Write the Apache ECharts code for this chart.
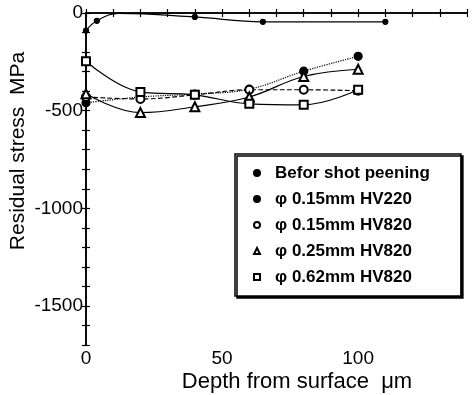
<!DOCTYPE html>
<html><head><meta charset="utf-8">
<script src="https://cdn.jsdelivr.net/npm/echarts@6/dist/echarts.min.js"></script>
<style>html,body{margin:0;padding:0;background:#fff}#c{width:472px;height:395px}</style>
</head><body><div id="c"></div>
<script>
// ---- data ----
const depth = [0, 20, 40, 60, 80, 100];
const beforeDepth = [0, 4, 12, 40, 65, 110];
const beforeStress = [-90, -40, -2, -20, -45, -45];
const beforeMarked = [true, true, false, true, true, true];
const hv220_015 = [-460, -430, -415, -390, -298, -222];
const hv820_015 = [-430, -440, -419, -393, -393, -398];
const hv820_025 = [-414, -510, -480, -430, -325, -288];
const hv820_062 = [-247, -404, -419, -465, -470, -393];
const seriesNames = ['Befor shot peening', 'φ 0.15mm HV220', 'φ 0.15mm HV820', 'φ 0.25mm HV820', 'φ 0.62mm HV820'];
const xTicksLabeled = [0, 50, 100];
const yTicksLabeled = [0, -500, -1000, -1500];
const xLabel = 'Depth from surface  μm';
const yLabel = 'Residual stress  MPa';

const font = 'Liberation Sans, Arial, sans-serif';
const pair = (xs, ys) => xs.map((x, i) => [x, ys[i]]);

const chart = echarts.init(document.getElementById('c'), null, {renderer: 'canvas'});
const axisCommon = {
  axisLine: {show: true, lineStyle: {color: '#000', width: 1.6}},
  axisTick: {show: true, inside: true, length: 4, lineStyle: {color: '#000', width: 1.2}},
  splitLine: {show: false}
};
const mk = (name, data, symbol, size, type) => ({
  name, type: 'line', data, smooth: 0.4, symbol, symbolSize: size,
  itemStyle: {color: '#000', borderColor: '#000', borderWidth: 1.2},
  lineStyle: {color: '#000', width: 1.2, type: type},
  z: 3
});
const beforeData = beforeDepth.map((x, i) => beforeMarked[i]
  ? [x, beforeStress[i]]
  : {value: [x, beforeStress[i]], symbol: 'none'});
const emptyIcon = {color: '#000', borderColor: '#000', borderWidth: 1.1};

chart.setOption({
  animation: false,
  grid: {left: 86, right: 5, top: 13, bottom: 50},
  xAxis: [
    Object.assign({type: 'value', min: 0, max: 140, interval: 10, position: 'bottom',
      axisLabel: {color: '#000', fontFamily: font, fontSize: 19, margin: 4,
        formatter: v => xTicksLabeled.includes(v) ? String(v) : ''}}, axisCommon),
    Object.assign({type: 'value', min: 0, max: 140, interval: 10, position: 'top',
      axisLabel: {show: false}}, axisCommon)
  ],
  yAxis: [
    Object.assign({type: 'value', min: -1700, max: 0, interval: 100, position: 'left',
      axisLabel: {color: '#000', fontFamily: font, fontSize: 19, margin: 3,
        formatter: v => yTicksLabeled.includes(v) ? String(v) : ''}}, axisCommon),
    Object.assign({type: 'value', min: -1700, max: 0, interval: 100, position: 'right',
      axisLabel: {show: false}}, axisCommon)
  ],
  legend: {
    orient: 'vertical', left: 235, top: 154,
    padding: [10, 31, 10, 18], itemGap: 8, itemWidth: 6, itemHeight: 6,
    backgroundColor: '#fff', borderColor: '#000', borderWidth: 1.5, borderRadius: 0,
    shadowColor: '#000', shadowOffsetX: 2, shadowOffsetY: 2, shadowBlur: 0,
    textStyle: {color: '#000', fontFamily: font, fontWeight: 'bold', fontSize: 17, lineHeight: 18, padding: [0, 0, 0, 10]},
    data: [
      {name: seriesNames[0], icon: 'circle', itemStyle: {color: '#000'}},
      {name: seriesNames[1], icon: 'circle', itemStyle: {color: '#000'}},
      {name: seriesNames[2], icon: 'emptyCircle', itemStyle: emptyIcon},
      {name: seriesNames[3], icon: 'emptyTriangle', itemStyle: emptyIcon},
      {name: seriesNames[4], icon: 'emptyRect', itemStyle: emptyIcon}
    ]
  },
  graphic: [
    {type: 'text', x: 18, y: 151, rotation: Math.PI / 2,
      style: {text: yLabel, fill: '#000', font: '21px ' + font, align: 'center', verticalAlign: 'middle'}},
    {type: 'text', x: 297, y: 382,
      style: {text: xLabel, fill: '#000', font: '22px ' + font, align: 'center', verticalAlign: 'middle'}}
  ],
  series: [
    mk(seriesNames[0], beforeData, 'circle', 5, 'solid'),
    mk(seriesNames[1], pair(depth, hv220_015), 'circle', 8, 'dotted'),
    mk(seriesNames[2], pair(depth, hv820_015), 'emptyCircle', 8, 'dashed'),
    mk(seriesNames[3], pair(depth, hv820_025), 'emptyTriangle', 9, 'solid'),
    mk(seriesNames[4], pair(depth, hv820_062), 'emptyRect', 8, 'solid')
  ]
});
</script></body></html>
